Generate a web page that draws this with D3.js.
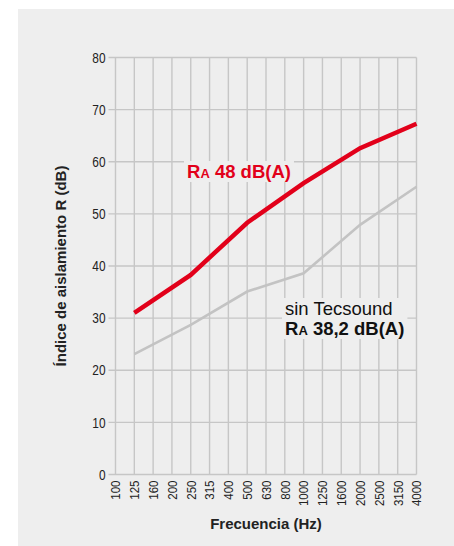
<!DOCTYPE html>
<html>
<head>
<meta charset="utf-8">
<script src="https://cdn.jsdelivr.net/npm/d3@7"></script>
<style>
  body { margin: 0; background: #fff; }
  svg { display: block; }
  text { font-family: "Liberation Sans", Arial, sans-serif; }
</style>
</head>
<body>
<svg id="chart" width="454" height="546"></svg>
<script>
// frequency bands (Hz)
let freqs = ["100","125","160","200","250","315","400","500","630","800","1000","1250","1600","2000","2500","3150","4000"];
let yTicks = [0,10,20,30,40,50,60,70,80];

// octave bands
let bandFreqs   = ["125","250","500","1000","2000","4000"];
let conValues   = [31.0, 38.3, 48.3, 55.9, 62.6, 67.3];   // con Tecsound
let sinValues   = [23.1, 28.7, 35.1, 38.6, 47.9, 55.2];   // sin Tecsound

let svg = d3.select("#chart");

svg.append("rect")
    .attr("x", 18).attr("y", 9)
    .attr("width", 454 - 18).attr("height", 546 - 9)
    .attr("fill", "#eeeeee");

let x = d3.scalePoint().domain(freqs).range([115.5, 416.5]);
let y = d3.scaleLinear().domain([0, 80]).range([474.5, 57.5]);

let grid = svg.append("g");

// vertical grid
grid.selectAll("line.v")
    .data(freqs)
    .enter().append("line")
        .attr("class", "v")
        .attr("x1", d => x(d)).attr("x2", d => x(d))
        .attr("y1", y(80)).attr("y2", y(0))
        .attr("stroke", "#c6c6c6")
        .attr("stroke-width", 1.4);

// horizontal grid with ticks
grid.selectAll("line.h")
    .data(yTicks)
    .enter().append("line")
        .attr("class", "h")
        .attr("x1", x("100") - 7).attr("x2", x("4000"))
        .attr("y1", d => y(d)).attr("y2", d => y(d))
        .attr("stroke", "#c6c6c6")
        .attr("stroke-width", 1.4);

// y labels (condensed look)
svg.append("g").selectAll("text")
    .data(yTicks)
    .enter().append("text")
        .attr("transform", d => "translate(" + (x("100") - 10) + "," + y(d) + ") scale(0.82,1)")
        .attr("dy", "0.36em")
        .attr("text-anchor", "end")
        .attr("font-size", 14.5)
        .attr("fill", "#222")
        .text(d => d);

// x labels, rotated
svg.append("g").selectAll("text")
    .data(freqs)
    .enter().append("text")
        .attr("transform", d => "translate(" + x(d) + "," + (y(0) + 6) + ") rotate(-90) scale(0.85,1)")
        .attr("dy", "0.36em")
        .attr("text-anchor", "end")
        .attr("font-size", 13.5)
        .attr("fill", "#222")
        .text(d => d);

// axis titles
svg.append("text")
    .attr("x", 266).attr("y", 529)
    .attr("text-anchor", "middle")
    .attr("font-size", 15)
    .attr("font-weight", "bold")
    .attr("fill", "#222")
    .text("Frecuencia (Hz)");

svg.append("text")
    .attr("transform", "translate(66," + y(40) + ") rotate(-90)")
    .attr("text-anchor", "middle")
    .attr("font-size", 15)
    .attr("font-weight", "bold")
    .attr("fill", "#222")
    .text("Índice de aislamiento R (dB)");

let line = d3.line()
    .x(d => x(d[0]))
    .y(d => y(d[1]));

svg.append("path")
    .datum(d3.zip(bandFreqs, sinValues))
    .attr("d", line)
    .attr("fill", "none")
    .attr("stroke", "#c3c3c3")
    .attr("stroke-width", 2.6);

svg.append("path")
    .datum(d3.zip(bandFreqs, conValues))
    .attr("d", line)
    .attr("fill", "none")
    .attr("stroke", "#e2001a")
    .attr("stroke-width", 4.5);

// labels with background boxes
function label(lines, lx, ly, color) {
    let g = svg.append("g");
    let bg = g.append("rect").attr("fill", "#eeeeee");
    lines.forEach(function(l, i) {
        let t = g.append("text")
            .attr("x", lx).attr("y", ly + i * 20)
            .attr("font-size", 18.5)
            .attr("font-weight", l.bold ? "bold" : "normal")
            .attr("fill", color);
        if (l.ra) {
            t.append("tspan").text("R");
            t.append("tspan").attr("font-size", 13).text("A");
            t.append("tspan").text(" " + l.text);
        } else {
            t.text(l.text);
        }
    });
    let b = g.node().getBBox();
    bg.attr("x", b.x - 3).attr("y", b.y)
      .attr("width", b.width + 6).attr("height", b.height);
}

label([{ ra: true, bold: true, text: "48 dB(A)" }], 187, 178, "#e2001a");
label([{ text: "sin Tecsound" }, { ra: true, bold: true, text: "38,2 dB(A)" }], 285, 315, "#111");
</script>
</body>
</html>
